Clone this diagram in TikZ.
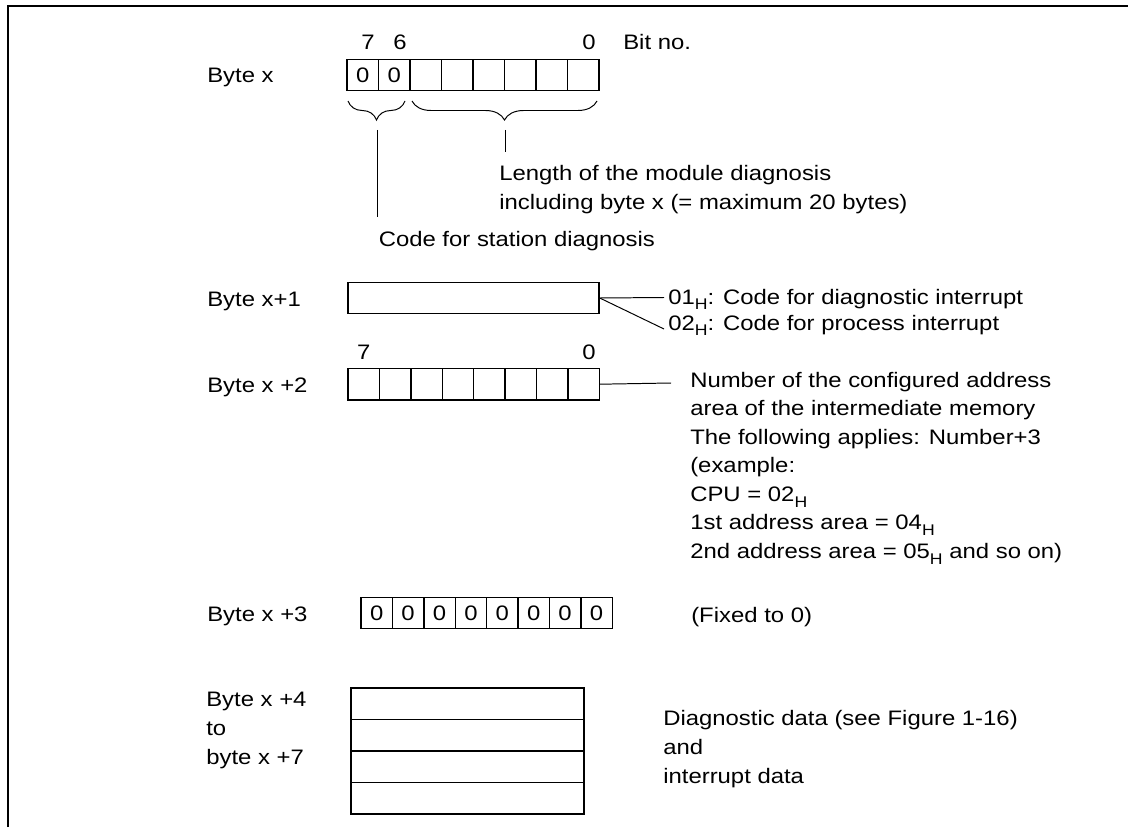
\documentclass[tikz,border=0pt]{standalone}
\usepackage{fontspec}
\setmainfont{Liberation Sans}[FakeStretch=1.14]
\usepackage{tikz}
\usetikzlibrary{positioning, decorations.pathreplacing}
\newcommand{\hx}{\raisebox{-0.28em}{\fontsize{11}{12}\selectfont H}}

\begin{document}
\begin{tikzpicture}[
    x=0.025cm, y=-0.025cm,
    txt/.style={inner sep=0pt, anchor=base west, align=left, font=\fontsize{14.9}{20.3}\selectfont},
    num/.style={inner sep=0pt, anchor=base, font=\fontsize{14.9}{20.3}\selectfont},
    cell/.style={draw, line width=1pt, inner sep=0pt, minimum width=#1, minimum height=0.785cm, font=\fontsize{14.9}{20.3}\selectfont},
    cell/.default=0.785cm,
    wire/.style={line width=0.7pt},
    brace/.style={wire, decorate, decoration={brace, amplitude=0.475cm}},
]
\useasboundingbox (0,0) rectangle (1128,827);
\draw[line width=1pt] (8,827) -- (8,6) -- (1128,6);

\node[txt] (lbx) at (207,83) {Byte x};
\node[num] (bx7) at (368,49.5) {7};
\node[num] (bx6) at (400,49.5) {6};
\node[num] (bx0) at (589,49.5) {0};
\node[txt] (bitno) at (623,49.5) {Bit no.};
\foreach \i in {0,...,7}
    \node[cell=0.7875cm] (cx\i) at ({362.75+31.5*\i},75) {\ifnum\i<2 0\fi};
\draw[brace] (405,101) -- (348,101);
\draw[brace] (597,101) -- (412,101);
\coordinate (codetop) at (377,130);
\coordinate (codebot) at (377,217);
\coordinate (lentop) at (505,130);
\coordinate (lenbot) at (505,152);
\draw[wire] (codetop) -- (codebot);
\draw[wire] (lentop) -- (lenbot);
\node[txt] (len) at (499,209.3) {Length of the module diagnosis\\including byte x (= maximum 20 bytes)};
\node[txt] (code) at (378.5,246.7) {Code for station diagnosis};

\node[txt] (lb1) at (207,306.5) {Byte x+1};
\node[cell=6.275cm, minimum height=0.765cm] (b1) at (473.5,298) {};
\coordinate (c01) at (664,297.5);
\coordinate (c02) at (664,329);
\draw[wire] (b1.east) -- (c01);
\draw[wire] (b1.east) -- (c02);
\node[txt] (t01) at (668,304) {01\hx: Code for diagnostic interrupt};
\node[txt] (t02) at (668,330) {02\hx: Code for process interrupt};

\node[txt] (lb2) at (207,392) {Byte x +2};
\node[num] (b27) at (363.7,359.3) {7};
\node[num] (b20) at (589,359.3) {0};
\foreach \i in {0,...,7}
    \node[cell] (c2\i) at ({363.7+31.4*\i},384.2) {};
\coordinate (c2end) at (671,383);
\draw[wire] (c27.east) -- (c2end);
\node[txt] (area) at (690,558.3) {Number of the configured address\\area of the intermediate memory\\The following applies: Number+3\\(example:\\CPU = 02\hx\\1st address area = 04\hx\\2nd address area = 05\hx{} and so on)};

\node[txt] (lb3) at (207,621) {Byte x +3};
\foreach \i in {0,...,7}
    \node[cell=0.785cm, minimum height=0.775cm] (c3\i) at ({376.7+31.4*\i},612.8) {0};
\node[txt] (fixed) at (691,622) {(Fixed to 0)};

\node[txt] (lb4) at (206,764) {Byte x +4\\to\\byte x +7};
\foreach \r in {0,...,3}
    \node[cell=5.825cm, minimum height=0.7875cm] (r4\r) at (467.5,{703.75+31.5*\r}) {};
\node[txt] (diag) at (663,783) {Diagnostic data (see Figure 1-16)\\and\\interrupt data};
\end{tikzpicture}
\end{document}
